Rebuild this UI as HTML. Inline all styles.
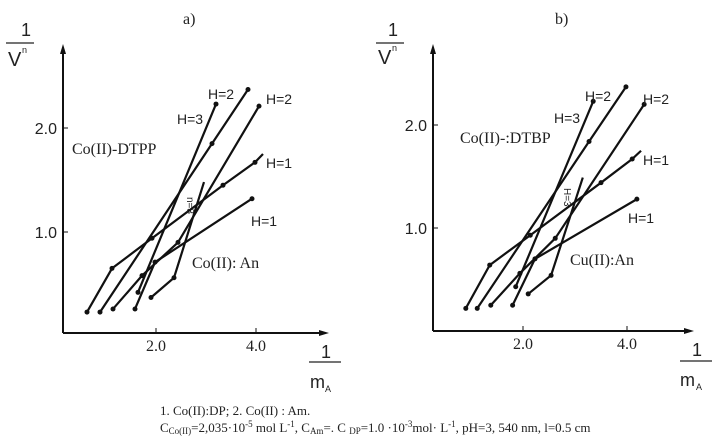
<!DOCTYPE html>
<html><head><meta charset="utf-8"><style>
body{margin:0;background:#fff;width:717px;height:441px;overflow:hidden}
svg{display:block}
.s{font-family:"Liberation Sans",sans-serif;fill:#222}
.r{font-family:"Liberation Serif",serif;fill:#222}
</style></head><body>
<svg id="c" width="717" height="441"></svg>
<script>
// Panel a data (x = 1/mA, y = 1/V^n)
const a_H3x=[1.64,3.2], a_H3y=[0.42,2.23];
const a_H2ax=[0.88,3.12,3.84], a_H2ay=[0.23,1.85,2.37];
const a_H2bx=[1.14,1.72,2.44,4.06], a_H2by=[0.26,0.58,0.9,2.21];
const a_H1ax=[0.62,1.12,1.92,3.34,3.98,4.14], a_H1ay=[0.23,0.65,0.94,1.45,1.67,1.75];
const a_H1bx=[1.58,1.98,3.92], a_H1by=[0.26,0.71,1.32];
const a_n3x=[1.9,2.36,2.96], a_n3y=[0.37,0.56,1.48];
// Panel b data
const b_H3x=[1.86,3.35], b_H3y=[0.43,2.23];
const b_H2ax=[1.12,3.27,3.98], b_H2ay=[0.22,1.84,2.37];
const b_H2bx=[1.38,1.94,2.62,4.33], b_H2by=[0.25,0.56,0.9,2.2];
const b_H1ax=[0.9,1.36,2.14,3.5,4.1,4.27], b_H1ay=[0.22,0.64,0.93,1.44,1.67,1.75];
const b_H1bx=[1.8,2.23,4.19], b_H1by=[0.25,0.7,1.28];
const b_n3x=[2.1,2.54,3.15], b_n3y=[0.36,0.54,1.49];
const xTicks=[2.0,4.0], yTicks=[1.0,2.0];

const NS="http://www.w3.org/2000/svg", svg=document.getElementById('c');
function mk(t,at,txt){const e=document.createElementNS(NS,t);for(const k in at)e.setAttribute(k,at[k]);if(txt!==undefined)e.textContent=txt;svg.appendChild(e);return e;}

function panel(p){
  const X=v=>p.x0+p.kx*v, Y=v=>p.y0-p.ky*v;
  let e;
  e=mk('line',{x1:p.ax,y1:p.ay,x2:p.ax,y2:50,stroke:'#111','stroke-width':2});
  
  
  e=mk('polygon',{points:`${p.ax-3},${54} ${p.ax},${44} ${p.ax+3},${54}`,fill:'#111'});
  
  
  e=mk('line',{x1:p.ax,y1:p.ay,x2:p.xend,y2:p.ay,stroke:'#111','stroke-width':2});
  
  
  e=mk('polygon',{points:`${p.xend-6},${p.ay-3} ${p.xend+4},${p.ay} ${p.xend-6},${p.ay+3}`,fill:'#111'});
  
  
  yTicks.forEach(v=>{
    e=mk('line',{x1:p.ax,y1:Y(v),x2:p.ax+5,y2:Y(v),stroke:'#111','stroke-width':1});
    
    
    e=mk('text',{x:p.ax-6,y:Y(v)+6,'text-anchor':'end',class:'s','font-size':16},v.toFixed(1));
    
    
  });
  xTicks.forEach(v=>{
    e=mk('line',{x1:X(v),y1:p.ay,x2:X(v),y2:p.ay-5,stroke:'#111','stroke-width':1});
    
    
    e=mk('text',{x:X(v),y:p.ay+18,'text-anchor':'middle',class:'r','font-size':16},v.toFixed(1));
    
    
  });
  p.series.forEach(s=>{
    const pts=s.x.map((v,i)=>X(v)+','+Y(s.y[i])).join(' ');
    e=mk('polyline',{points:pts,fill:'none',stroke:'#111','stroke-width':2.2});
    
    
    s.x.forEach((v,i)=>{
      if(s.nodot && i===s.x.length-1) return;
      e=mk('circle',{cx:X(v),cy:Y(s.y[i]),r:2.5,fill:'#111'});
      
      
    });
  });
}
panel({x0:56,kx:50,y0:336,ky:104,ax:63,ay:333,xend:325,series:[
 {n:'h3',x:a_H3x,y:a_H3y},{n:'h2a',x:a_H2ax,y:a_H2ay},{n:'h2b',x:a_H2bx,y:a_H2by},
 {n:'h1a',x:a_H1ax,y:a_H1ay,nodot:true},{n:'h1b',x:a_H1bx,y:a_H1by},{n:'n3',x:a_n3x,y:a_n3y,nodot:true}]});
panel({x0:419,kx:52,y0:331,ky:103,ax:433,ay:331,xend:690,series:[
 {n:'h3',x:b_H3x,y:b_H3y},{n:'h2a',x:b_H2ax,y:b_H2ay},{n:'h2b',x:b_H2bx,y:b_H2by},
 {n:'h1a',x:b_H1ax,y:b_H1ay,nodot:true},{n:'h1b',x:b_H1bx,y:b_H1by},{n:'n3',x:b_n3x,y:b_n3y,nodot:true}]});
</script>
<script>
(function(){
const NS="http://www.w3.org/2000/svg", svg=document.getElementById('c');
function t(x,y,txt,cls,fs,name,extra){const e=document.createElementNS(NS,'text');e.setAttribute('x',x);e.setAttribute('y',y);e.setAttribute('class',cls);e.setAttribute('font-size',fs);if(extra)for(const k in extra)e.setAttribute(k,extra[k]);e.textContent=txt;


svg.appendChild(e);return e;}
function l(x1,y1,x2,y2,name){const e=document.createElementNS(NS,'line');e.setAttribute('x1',x1);e.setAttribute('y1',y1);e.setAttribute('x2',x2);e.setAttribute('y2',y2);e.setAttribute('stroke','#222');e.setAttribute('stroke-width',1.3);


svg.appendChild(e);}
// panel a
t(183,24,'a)','r',16,'panel-a-title');
t(21,36,'1','s',18,'y-axis-title-num');l(6,43,34,43,'y-axis-title-bar');
t(8,66,'V','s',20,'y-axis-title-den');t(22,53,'n','s',9,'y-axis-title-exp');
t(321,358,'1','s',18,'x-axis-title-num');l(309,362,341,362,'x-axis-title-bar');
t(310,388,'m','s',18,'x-axis-title-den');t(325,392,'A','s',9,'x-axis-title-sub');
t(72,154,'Co(II)-DTPP','r',16,'label-co-dtpp');
t(192,268,'Co(II): An','r',16,'label-co-an');
t(208,99,'H=2','s',14,'label-h2');t(266,104,'H=2','s',14,'label-h2');
t(177,124,'H=3','s',14,'label-h3');t(266,168,'H=1','s',14,'label-h1');t(251,226,'H=1','s',14,'label-h1');
t(187,197,'n=3','s',10,'label-n3',{transform:'rotate(90 187 197)',fill:'#5a2a7a'});
// panel b
t(555,24,'b)','r',16,'panel-b-title');
t(388,36,'1','s',18,'y-axis-title-num');l(376,43,404,43,'y-axis-title-bar');
t(378,64,'V','s',20,'y-axis-title-den');t(392,51,'n','s',9,'y-axis-title-exp');
t(692,356,'1','s',18,'x-axis-title-num');l(680,361,712,361,'x-axis-title-bar');
t(680,386,'m','s',18,'x-axis-title-den');t(696,390,'A','s',9,'x-axis-title-sub');
t(460,143,'Co(II)-:DTBP','r',16,'label-co-dtbp');
t(570,265,'Cu(II):An','r',16,'label-cu-an');
t(585,101,'H=2','s',14,'label-h2');t(643,104,'H=2','s',14,'label-h2');
t(554,123,'H=3','s',14,'label-h3');t(643,165,'H=1','s',14,'label-h1');t(628,223,'H=1','s',14,'label-h1');
t(564,188,'H=3','s',10,'label-n3',{transform:'rotate(90 564 188)',fill:'#5a2a7a'});
// caption
t(160,415,'1. Co(II):DP; 2. Co(II) : Am.','r',13,'caption-line-1');
const c=t(160,432,'','r',13,'caption-line-2');
c.innerHTML='C<tspan font-size="9" dy="2">Co(II)</tspan><tspan dy="-2">=2,035·10</tspan><tspan font-size="9" dy="-5">-5</tspan><tspan dy="5"> mol L</tspan><tspan font-size="9" dy="-5">-1</tspan><tspan dy="5">, C</tspan><tspan font-size="9" dy="2">Am</tspan><tspan dy="-2">=. C </tspan><tspan font-size="9" dy="2">DP</tspan><tspan dy="-2">=1.0 ·10</tspan><tspan font-size="9" dy="-5">-3</tspan><tspan dy="5">mol· L</tspan><tspan font-size="9" dy="-5">-1</tspan><tspan dy="5">, pH=3, 540 nm, l=0.5 cm</tspan>';
})();
</script>
</body></html>
